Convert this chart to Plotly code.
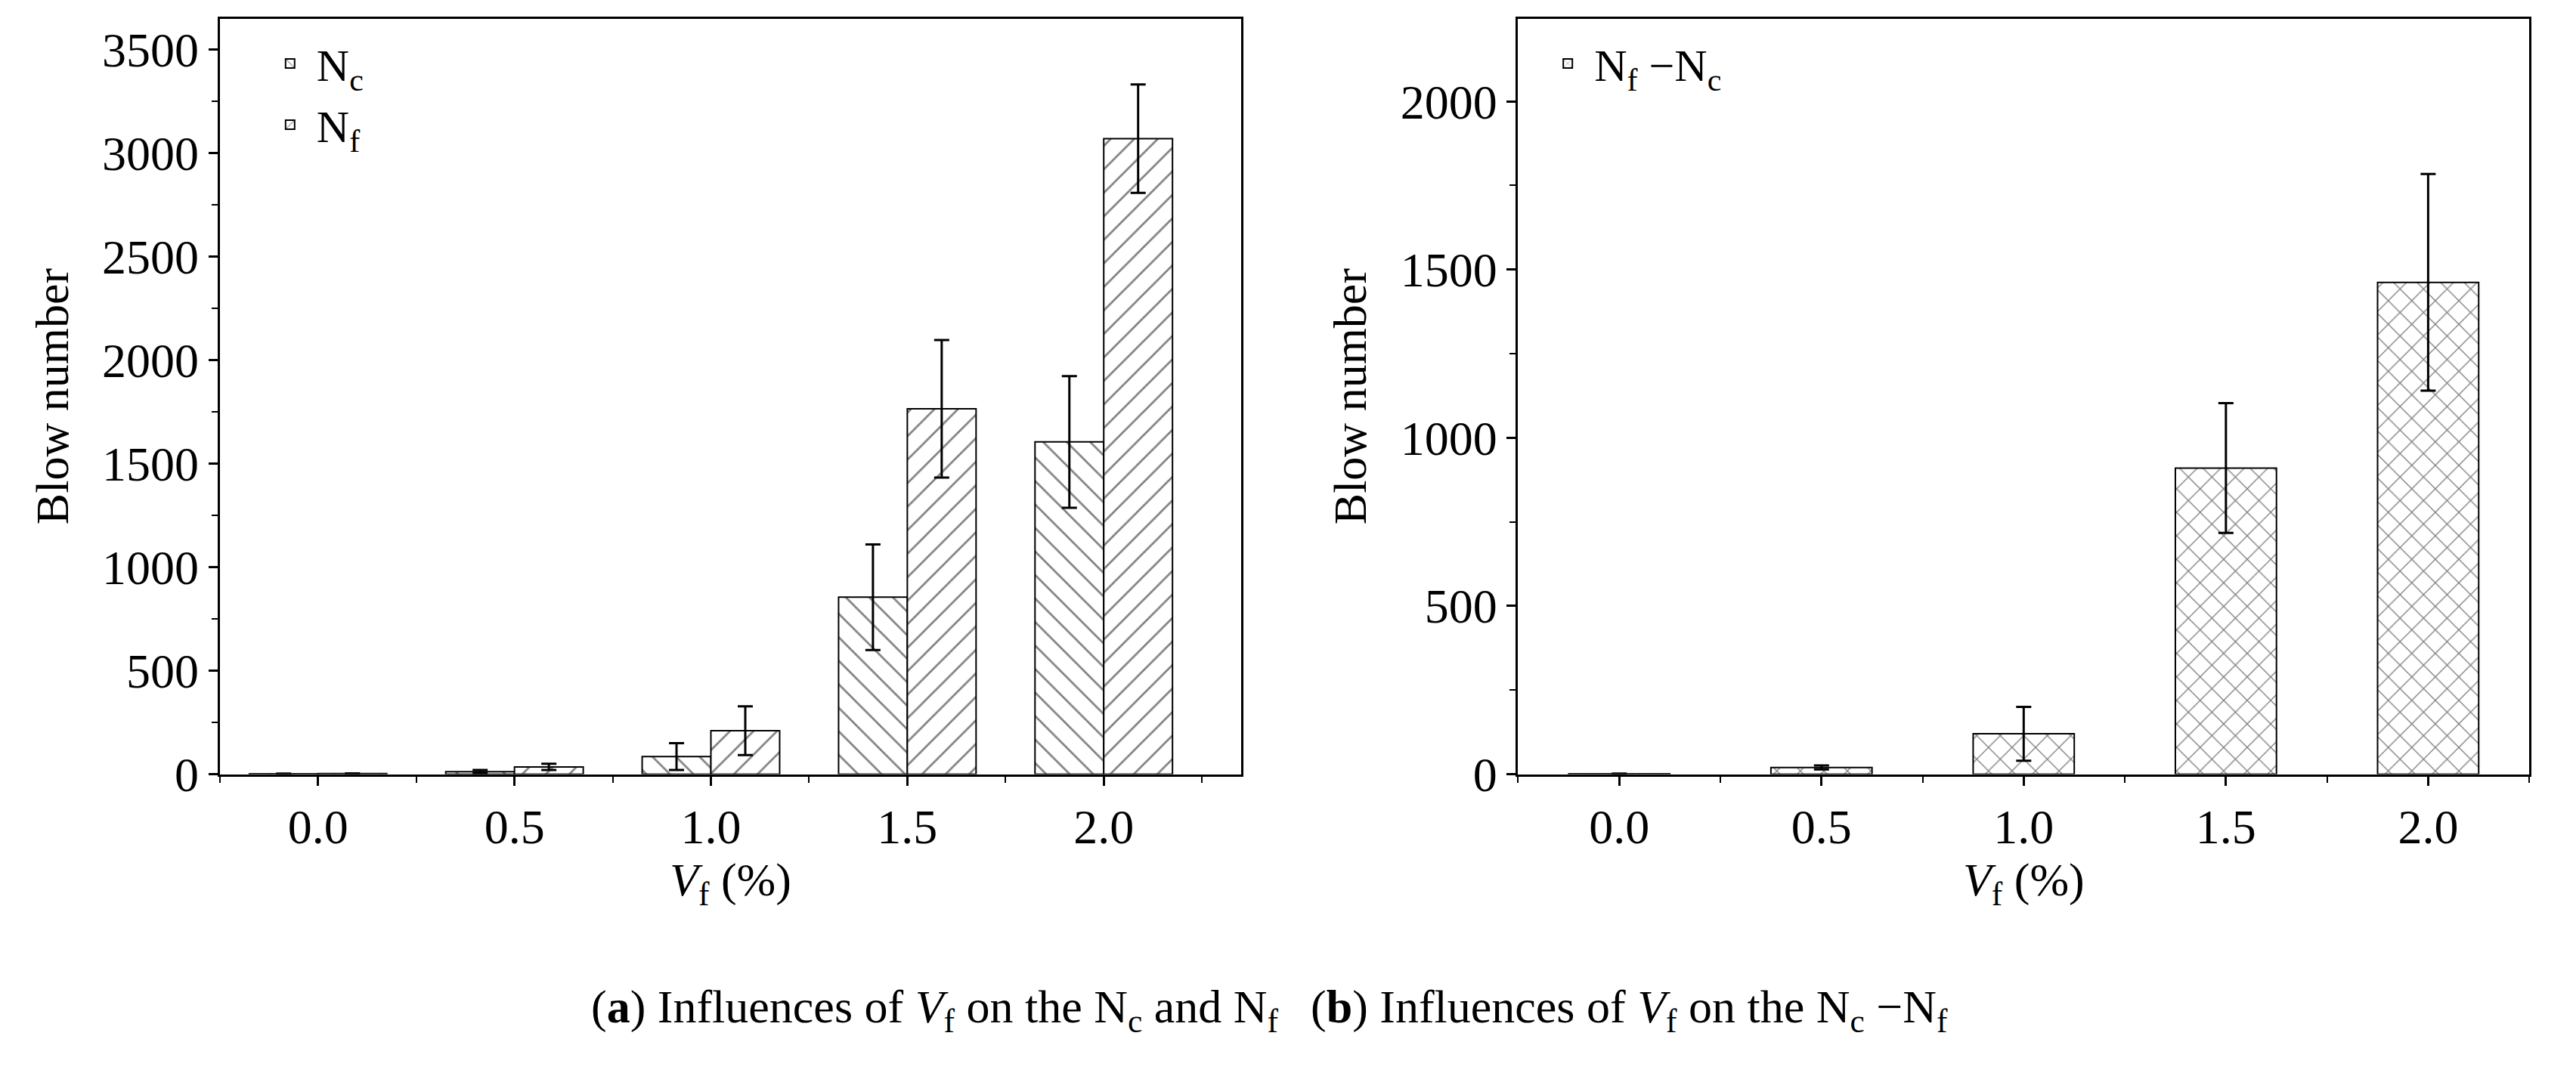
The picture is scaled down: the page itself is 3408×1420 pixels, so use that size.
import plotly.graph_objects as go

# Data
vf = [0.0, 0.5, 1.0, 1.5, 2.0]
nc = [2, 12, 85, 855, 1605]
nc_err = [1, 8, 65, 255, 318]
nf = [3, 35, 210, 1765, 3070]
nf_err = [1, 15, 118, 332, 262]
diff = [1, 20, 120, 910, 1462]
diff_err = [1, 6, 80, 193, 322]

FONT = "Liberation Serif"
black = "black"

def err(a):
    return dict(type="data", array=a, color=black, thickness=3, width=10)

def pat(shape):
    return dict(color="white", line=dict(color=black, width=2),
                pattern=dict(shape=shape, fgcolor=black, bgcolor="white", size=22, solidity=0.12))

fig = go.Figure()
fig.add_trace(go.Bar(x=vf, y=nc, name="N<sub>c</sub>", error_y=err(nc_err), marker=pat("\\"),
                     xaxis="x", yaxis="y", legend="legend"))
fig.add_trace(go.Bar(x=vf, y=nf, name="N<sub>f</sub>", error_y=err(nf_err), marker=pat("/"),
                     xaxis="x", yaxis="y", legend="legend"))
fig.add_trace(go.Bar(x=vf, y=diff, name="N<sub>f</sub> \u2212N<sub>c</sub>", error_y=err(diff_err),
                     width=0.25, marker=pat("x"),
                     xaxis="x2", yaxis="y2", legend="legend2"))

axis_common = dict(showline=True, linecolor=black, linewidth=3, mirror=True, ticks="outside",
                   ticklen=12, tickwidth=3, tickcolor=black, showgrid=False, zeroline=False,
                   tickfont=dict(family=FONT, size=64, color=black),
                   title_font=dict(family=FONT, size=62, color=black))
xcommon = dict(axis_common, tickvals=vf, ticktext=["0.0", "0.5", "1.0", "1.5", "2.0"],
               minor=dict(dtick=0.25, tick0=0.25, ticks="outside", ticklen=8, tickwidth=2, tickcolor=black),
               title_text="<i>V</i><sub>f</sub> (%)", title_standoff=10)
ycommon = dict(axis_common, dtick=500,
               minor=dict(dtick=250, ticks="outside", ticklen=8, tickwidth=2, tickcolor=black),
               title_text="Blow number", title_standoff=25)

fig.update_layout(
    width=3408, height=1420, margin=dict(l=0, r=0, t=0, b=0),
    paper_bgcolor="white", plot_bgcolor="white",
    barmode="group", bargap=0.3,
    xaxis=dict(xcommon, domain=[0.083, 0.4795], range=[-0.25, 2.35], anchor="y"),
    yaxis=dict(ycommon, domain=[0.2655, 0.988], range=[0, 3650], anchor="x"),
    xaxis2=dict(xcommon, domain=[0.587, 0.9795], range=[-0.25, 2.25], anchor="y2"),
    yaxis2=dict(ycommon, domain=[0.2655, 0.988], range=[0, 2246], anchor="x2"),
    legend=dict(x=0.1, y=0.978, xanchor="left", yanchor="top", bgcolor="rgba(0,0,0,0)",
                itemwidth=60, font=dict(family=FONT, size=60, color=black)),
    legend2=dict(x=0.596, y=0.978, xanchor="left", yanchor="top", bgcolor="rgba(0,0,0,0)",
                 itemwidth=60, font=dict(family=FONT, size=60, color=black)),
    annotations=[
        dict(text="(<b>a</b>) Influences of <i>V</i><sub>f</sub> on the N<sub>c</sub> and N<sub>f</sub>",
             x=0.2265, y=0.04, xref="paper", yref="paper", yanchor="middle", showarrow=False,
             font=dict(family=FONT, size=62, color=black)),
        dict(text="(<b>b</b>) Influences of <i>V</i><sub>f</sub> on the N<sub>c</sub> \u2212N<sub>f</sub>",
             x=0.7545, y=0.04, xref="paper", yref="paper", yanchor="middle", showarrow=False,
             font=dict(family=FONT, size=62, color=black)),
    ],
)

fig.write_html("out.html")
